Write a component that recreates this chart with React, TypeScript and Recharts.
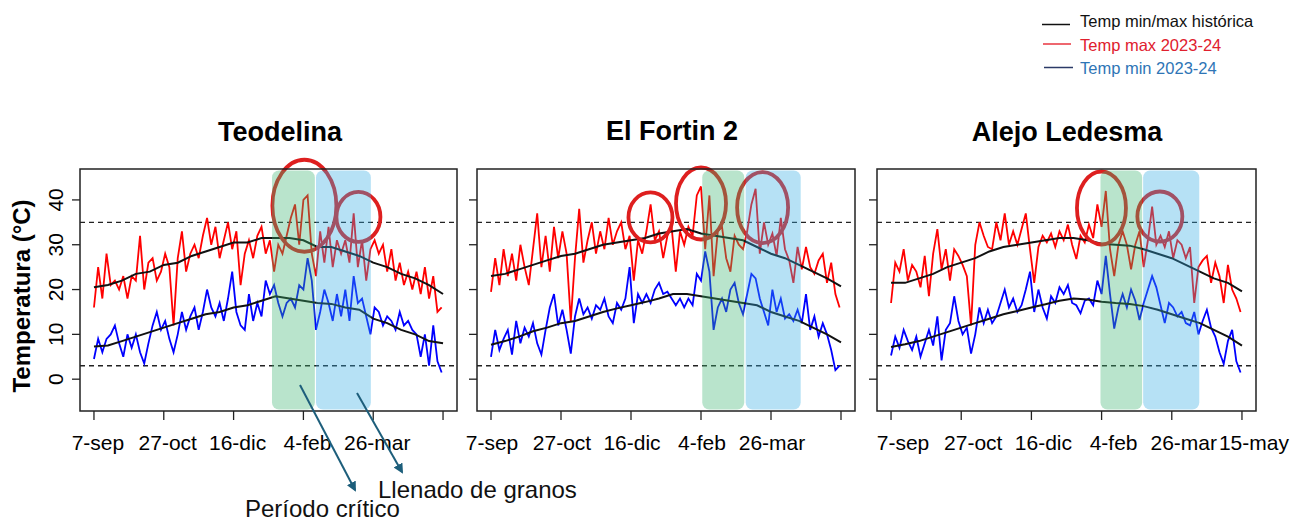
import React from 'react';
import {
  LineChart,
  Line,
  XAxis,
  YAxis,
  ReferenceLine,
  ReferenceArea,
  ReferenceDot,
} from 'recharts';

// ---- datos ---------------------------------------------------------------

// días contados desde el 7-sep (serie 2023-24 leída cada 3 días)
const days = [
  0, 3, 6, 9, 12, 15, 18, 21, 24, 27, 30, 33, 36, 39, 42, 45, 48, 51, 54, 57,
  60, 63, 66, 69, 72, 75, 78, 81, 84, 87, 90, 93, 96, 99, 102, 105, 108, 111,
  114, 117, 120, 123, 126, 129, 132, 135, 138, 141, 144, 147, 150, 153, 156,
  159, 162, 165, 168, 171, 174, 177, 180, 183, 186, 189, 192, 195, 198, 201,
  204, 207, 210, 213, 216, 219, 222, 225, 228, 231, 234, 237, 240, 243, 246, 249,
];
// serie histórica, cada 10 días
const histDays = [
  0, 10, 20, 30, 40, 50, 60, 70, 80, 90, 100, 110, 120, 130, 140, 150, 160,
  170, 180, 190, 200, 210, 220, 230, 240, 250,
];

const dayTicks = [0, 50, 100, 150, 200, 250];
const dayLabels = ['7-sep', '27-oct', '16-dic', '4-feb', '26-mar', '15-may'];
const tempTicks = [0, 10, 20, 30, 40];
const thresholds = [35, 3];

// Teodelina
const teoMax = [
  16, 25, 18, 28, 21, 22, 20, 23, 18, 23,
  22, 32, 20, 26, 27, 22, 24, 28, 25, 12,
  27, 33, 24, 28, 30, 27, 32, 36, 30, 34,
  27, 31, 35, 29, 33, 21, 28, 31, 27, 32,
  34, 28, 31, 24, 30, 28, 32, 36, 39, 30,
  40, 41, 28, 23, 33, 26, 34, 25, 31, 28,
  31, 26, 37, 25, 31, 22, 29, 31, 28, 30,
  24, 29, 22, 26, 21, 24, 20, 24, 19, 25,
  18, 23, 15, 16,
];
const teoMin = [
  4.5, 9, 6, 9, 10, 12, 8, 5, 10, 7,
  10, 6, 3.5, 8, 12, 15, 11, 13, 9, 6,
  10, 15, 11, 14, 16, 11, 15, 20, 16, 14,
  17, 13, 18, 24, 15, 12, 11, 19, 13, 17,
  14, 22, 19, 21, 17, 14, 17, 18, 16, 21,
  20, 27, 22, 11, 15, 20, 17, 13, 19, 14,
  20, 13, 23, 17, 18, 14, 10, 16, 15, 12,
  14, 13, 11, 15, 12, 13, 11, 10, 5, 10,
  3, 12, 4, 1.5,
];
const teoHistMax = [
  20.5, 21, 22, 23.5, 24, 25.5, 26, 27.5, 28.5, 29.5, 30.5, 30.5, 31.5,
  31.5, 31.5, 31, 29.5, 29.5, 28.5, 27.5, 26, 25, 23.5, 22.5, 21, 19,
];
const teoHistMin = [
  7.3, 7.5, 8.5, 9.5, 10.5, 11.5, 12.5, 13.5, 14.5, 15, 16, 16.5, 17.5,
  18.5, 18, 17.5, 17, 16.8, 16, 15.5, 13.5, 12.5, 11, 10, 8.5, 8,
];
const teoCritico = [127.5, 158.2];
const teoLlenado = [159, 198.3];

// El Fortin 2
const fortMax = [
  19.5, 27, 21, 29, 23, 28, 22, 30, 25, 21,
  29, 37, 25, 32, 24, 34, 27, 33, 28, 13,
  27, 38, 26, 31, 35, 28, 33, 29, 36, 30,
  33, 35, 29, 32, 22, 31, 28, 33, 39, 31,
  33, 27, 32, 34, 24, 33, 30, 34, 32, 41,
  43, 29, 41, 23, 33, 34, 27, 24, 32, 30,
  29, 33, 39, 42.5, 28, 35, 30, 32.5, 27.5, 36,
  29, 26.5, 21.5, 29.5, 24.5, 29.5, 25, 23.5, 26.5, 28,
  21.5, 26, 19, 16,
];
const fortMin = [
  5, 11, 6.5, 9, 11, 5.5, 13, 8, 11.5, 9.5,
  12.5, 8, 5.5, 11, 16, 19, 12, 15.5, 11, 5.7,
  14, 18, 14.5, 16, 13.5, 16.5, 15.5, 18, 14, 12.5,
  17, 15.5, 18, 25, 12.5, 19, 17, 19, 17, 20,
  21.5, 19, 19.5, 18, 16.5, 18, 16, 18, 16.5, 23.5,
  22, 28.5, 24, 11, 16, 18, 15, 20, 21.5, 17,
  14.5, 19, 23.5, 22.5, 18, 15, 12, 20, 15, 18,
  13.5, 14.5, 13, 15.5, 12.5, 19, 11, 14, 9.5, 12.5,
  10, 6.5, 2, 3,
];
const fortHistMax = [
  23, 23.5, 24.5, 25.5, 26.5, 27.5, 28, 29, 30, 30.5, 31, 31.5, 32.5,
  33, 33.5, 32.5, 32, 31.5, 31, 29.5, 28, 27, 25.5, 24, 22.5, 20.7,
];
const fortHistMin = [
  7.7, 8.5, 9.5, 10.7, 11.5, 12.5, 13, 14, 15, 15.8, 16.5, 17.2, 18,
  19, 19, 18.5, 18, 17.5, 17, 16.5, 15, 14, 13, 11.5, 10, 8.2,
];
const fortCritico = [150.9, 180.9];
const fortLlenado = [181.9, 221.2];

// Alejo Ledesma
const alejoMax = [
  17, 26, 24, 29, 22, 25.5, 24, 20.5, 27.5, 18.5,
  28, 33.5, 24.5, 29, 22, 29, 27.5, 25.5, 23, 12,
  30, 35, 32, 29.5, 29, 35, 31, 37, 30, 33,
  30, 33.5, 37, 29, 21.5, 29.5, 32, 30.5, 32.5, 29.5,
  33, 31, 34.5, 30, 26.8, 32, 30.5, 34.5, 31.5, 39,
  34, 42, 29, 23, 30, 33, 30, 24.5, 30, 33,
  25, 31, 38.5, 30, 32, 29.5, 33, 27, 31, 30,
  27, 29.5, 17, 25, 26.5, 27.5, 21.5, 26, 23, 17,
  25.5, 20, 18, 15,
];
const alejoMin = [
  5.3, 9.5, 7, 11, 8.5, 6.5, 9.5, 5, 8, 11,
  7.5, 14, 4.2, 11, 12.5, 18.5, 13, 10, 11.5, 5.7,
  10, 16, 12.5, 15.5, 12.5, 14, 17, 20, 16, 18,
  15, 16.5, 20, 24, 15, 20, 16, 13.5, 18.5, 17,
  20.5, 19, 21, 17, 16.5, 14.7, 17.5, 18, 16.5, 22,
  19, 27.5, 19, 11.3, 16, 19, 16, 20, 17.5, 13.2,
  17, 20, 23, 20.5, 16.5, 12.5, 17, 16, 14, 15,
  12.5, 12, 15, 10, 13, 15.5, 11.5, 9.5, 6, 3.4,
  8.5, 11, 4, 1.5,
];
const alejoHistMax = [
  21.5, 21.5, 22.5, 23.5, 25, 26, 27, 28.5, 29.5, 30, 30.5, 31, 31.5,
  31.5, 31, 30.2, 30, 29.8, 29, 28, 27, 25.5, 24, 22.5, 21.5, 19.6,
];
const alejoHistMin = [
  7.2, 7.8, 8.5, 9.5, 10.5, 11.5, 12.5, 13.5, 14.5, 15.2, 16, 16.7, 17.5,
  18, 17.8, 17.3, 17, 16.8, 16.3, 15.5, 14.5, 13.5, 12.5, 11, 9.5, 7.5,
];
const alejoCritico = [149.2, 178.9];
const alejoLlenado = [179.6, 219.6];

// ---- estilo ---------------------------------------------------------------

const RED = '#ff0000';
const BLUE = '#0000ff';
const HIST = '#111111';
const CIRCLE = '#de1f1f';
const GREEN_BAND = '#3cb371';
const BLUE_BAND = '#34ace2';
const ARROW = '#1d5e7b';
const FONT = '"Liberation Sans", Arial, Helvetica, sans-serif';

const PLOT_TOP = 169;
const PLOT_H = 242;
const Y_AXIS_W = 40;
const MARGIN_TOP = 20;
const RIGHT_PAD = 48;
const X_AXIS_H = 50;
const xDomain: [number, number] = [-10, 260];
const yDomain: [number, number] = [-7.1, 46.9];

type Highlight = { day: number; temp: number; rx: number; ry: number };

const teoHighlights: Highlight[] = [
  { day: 150.7, temp: 38.7, rx: 32, ry: 46 },
  { day: 189.4, temp: 36.2, rx: 22, ry: 25 },
];
const fortHighlights: Highlight[] = [
  { day: 113.9, temp: 36.1, rx: 22, ry: 25 },
  { day: 150, temp: 39.2, rx: 25, ry: 36 },
  { day: 194, temp: 38.3, rx: 25.5, ry: 35.5 },
];
const alejoHighlights: Highlight[] = [
  { day: 149.9, temp: 38.2, rx: 24.5, ry: 36.5 },
  { day: 191.5, temp: 36.3, rx: 22.5, ry: 25 },
];

const toSeries = (xs: number[], ys: number[]) =>
  xs.map((day, i) => ({ day, t: ys[i] }));

const RotatedTick = ({ x, y, payload }: any) => (
  <text
    x={x}
    y={y}
    transform={`rotate(-90 ${x} ${y})`}
    textAnchor="middle"
    fontSize={21}
    fontWeight={400}
    fill="#000"
    stroke="none"
  >
    {payload.value}
  </text>
);

const NoTick = () => <g />;

// etiqueta de fecha; el último rótulo sólo se muestra en el panel de la derecha
const makeDateTick = (shift: number, showLast: boolean) => ({ x, y, payload }: any) => {
  const i = dayTicks.indexOf(payload.value);
  if (i < 0 || (i === dayTicks.length - 1 && !showLast)) return <g />;
  return (
    <text
      x={x + shift}
      y={y}
      dy="0.71em"
      textAnchor="middle"
      fontSize={21}
      fontWeight={400}
      fill="#000"
      stroke="none"
    >
      {dayLabels[i]}
    </text>
  );
};

const bandShape = (fill: string) => (s: any) => (
  <rect
    x={s.x}
    y={s.y + 1.5}
    width={s.width}
    height={s.height - 3}
    rx={7}
    ry={7}
    fill={fill}
    fillOpacity={0.36}
  />
);

interface PanelProps {
  left: number;
  boxWidth: number;
  max: number[];
  min: number[];
  histMax: number[];
  histMin: number[];
  critico: number[];
  llenado: number[];
  highlights: Highlight[];
  yLabels: boolean;
  lastLabel: boolean;
  labelShift: number;
}

function Panel(p: PanelProps) {
  const width = Y_AXIS_W + p.boxWidth + RIGHT_PAD;
  const height = MARGIN_TOP + PLOT_H + X_AXIS_H;
  const DateTick = makeDateTick(p.labelShift, p.lastLabel);

  return (
    <div style={{ position: 'absolute', left: p.left - Y_AXIS_W, top: PLOT_TOP - MARGIN_TOP }}>
      <LineChart
        width={width}
        height={height}
        margin={{ top: MARGIN_TOP, right: RIGHT_PAD, bottom: 0, left: 0 }}
      >
        <XAxis
          type="number"
          dataKey="day"
          domain={xDomain}
          allowDataOverflow
          ticks={dayTicks}
          interval={0}
          height={X_AXIS_H}
          axisLine={false}
          tickSize={9}
          tickMargin={15}
          tick={<DateTick />}
          tickLine={{ stroke: '#222', strokeWidth: 1.3 }}
        />
        <YAxis
          type="number"
          dataKey="t"
          domain={yDomain}
          allowDataOverflow
          ticks={tempTicks}
          interval={0}
          width={Y_AXIS_W}
          axisLine={false}
          tickSize={8}
          tickMargin={9}
          tick={p.yLabels ? <RotatedTick /> : <NoTick />}
          tickLine={{ stroke: '#222', strokeWidth: 1.3 }}
        />
        {thresholds.map((t) => (
          <ReferenceLine key={t} y={t} stroke="#222" strokeWidth={1.3} strokeDasharray="5 4" />
        ))}
        <Line
          data={toSeries(days, p.max)}
          dataKey="t"
          stroke={RED}
          strokeWidth={1.8}
          dot={false}
          isAnimationActive={false}
        />
        <Line
          data={toSeries(days, p.min)}
          dataKey="t"
          stroke={BLUE}
          strokeWidth={1.8}
          dot={false}
          isAnimationActive={false}
        />
        <Line
          data={toSeries(histDays, p.histMax)}
          dataKey="t"
          stroke={HIST}
          strokeWidth={2}
          dot={false}
          isAnimationActive={false}
        />
        <Line
          data={toSeries(histDays, p.histMin)}
          dataKey="t"
          stroke={HIST}
          strokeWidth={2}
          dot={false}
          isAnimationActive={false}
        />
        {p.highlights.map((h, i) => (
          <ReferenceDot
            key={i}
            x={h.day}
            y={h.temp}
            r={h.rx}
            zIndex={420}
            shape={(s: any) => (
              <ellipse
                cx={s.cx}
                cy={s.cy}
                rx={h.rx}
                ry={h.ry}
                fill="none"
                stroke={CIRCLE}
                strokeWidth={3.8}
              />
            )}
          />
        ))}
        {/* período crítico y llenado de granos, por encima de las series */}
        <ReferenceArea
          x1={p.critico[0]}
          x2={p.critico[1]}
          y1={yDomain[0]}
          y2={yDomain[1]}
          zIndex={450}
          shape={bandShape(GREEN_BAND)}
        />
        <ReferenceArea
          x1={p.llenado[0]}
          x2={p.llenado[1]}
          y1={yDomain[0]}
          y2={yDomain[1]}
          zIndex={450}
          shape={bandShape(BLUE_BAND)}
        />
        <ReferenceArea
          x1={xDomain[0]}
          x2={xDomain[1]}
          y1={yDomain[0]}
          y2={yDomain[1]}
          fill="none"
          fillOpacity={0}
          stroke="#222"
          strokeWidth={1.5}
          zIndex={460}
        />
      </LineChart>
    </div>
  );
}

export default function App() {
  return (
    <div
      style={{
        position: 'absolute',
        left: 0,
        top: 0,
        width: 1300,
        height: 523,
        overflow: 'hidden',
        background: '#fff',
        fontFamily: FONT,
      }}
    >
      <Panel
        left={80}
        boxWidth={377}
        max={teoMax}
        min={teoMin}
        histMax={teoHistMax}
        histMin={teoHistMin}
        critico={teoCritico}
        llenado={teoLlenado}
        highlights={teoHighlights}
        yLabels
        lastLabel={false}
        labelShift={4}
      />
      <Panel
        left={477}
        boxWidth={378}
        max={fortMax}
        min={fortMin}
        histMax={fortHistMax}
        histMin={fortHistMin}
        critico={fortCritico}
        llenado={fortLlenado}
        highlights={fortHighlights}
        yLabels={false}
        lastLabel={false}
        labelShift={1}
      />
      <Panel
        left={877}
        boxWidth={379}
        max={alejoMax}
        min={alejoMin}
        histMax={alejoHistMax}
        histMin={alejoHistMin}
        critico={alejoCritico}
        llenado={alejoLlenado}
        highlights={alejoHighlights}
        yLabels={false}
        lastLabel
        labelShift={12}
      />

      <svg
        width={1300}
        height={523}
        style={{ position: 'absolute', left: 0, top: 0, pointerEvents: 'none' }}
        fontFamily={FONT}
      >
        <defs>
          <marker
            id="punta"
            viewBox="0 0 10 10"
            refX="8"
            refY="5"
            markerWidth="5"
            markerHeight="5"
            orient="auto"
          >
            <path d="M0,0 L10,5 L0,10 z" fill={ARROW} />
          </marker>
        </defs>

        {/* títulos */}
        <g fontSize={27} fontWeight="bold" textAnchor="middle" fill="#000">
          <text x={280} y={141}>Teodelina</text>
          <text x={672} y={140}>El Fortin 2</text>
          <text x={1067} y={141}>Alejo Ledesma</text>
        </g>

        <text
          x={30}
          y={296}
          transform="rotate(-90 30 296)"
          textAnchor="middle"
          fontSize={24}
          fontWeight="bold"
          fill="#000"
        >
          Temperatura (°C)
        </text>

        {/* leyenda */}
        <g fontSize={16.5}>
          <line x1={1042} y1={24.5} x2={1070} y2={24.5} stroke="#111" strokeWidth={1.5} />
          <text x={1080} y={26.5} fill="#111">Temp min/max histórica</text>
          <line x1={1043} y1={44} x2={1071} y2={44} stroke="#e8343f" strokeWidth={1.5} />
          <text x={1080} y={50.5} fill="#e0202e">Temp max 2023-24</text>
          <line x1={1044} y1={67.5} x2={1073} y2={67.5} stroke="#2b3a67" strokeWidth={1.5} />
          <text x={1080} y={74} fill="#2e75b6">Temp min 2023-24</text>
        </g>

        {/* flechas a los períodos */}
        <line x1={300} y1={385} x2={355} y2={490} stroke={ARROW} strokeWidth={2} markerEnd="url(#punta)" />
        <line x1={357} y1={393} x2={402} y2={472} stroke={ARROW} strokeWidth={2} markerEnd="url(#punta)" />
        <g fontSize={24} fill="#111">
          <text x={378} y={498}>Llenado de granos</text>
          <text x={245} y={517}>Período crítico</text>
        </g>
      </svg>
    </div>
  );
}
